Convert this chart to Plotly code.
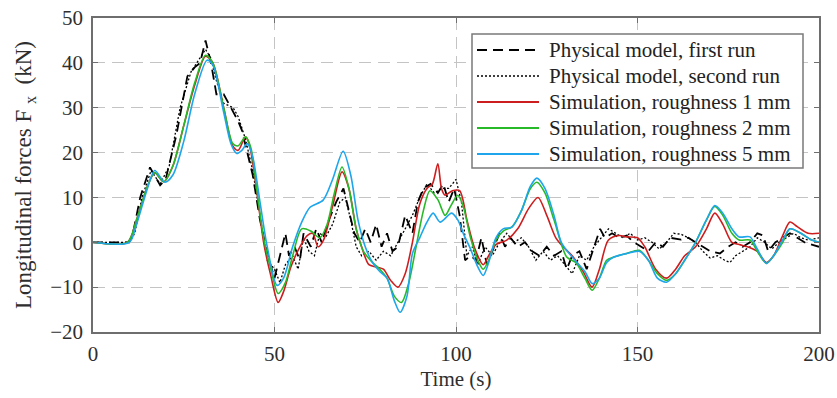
import plotly.graph_objects as go

# ---- data: time (s) and longitudinal force (kN) ----
t_run1 = [0, 10, 11, 13, 15.7, 18.5, 20, 23, 26, 28, 29.5, 31, 32.5, 34, 36, 38, 40, 41, 43, 44, 46, 48,
          50, 51.5, 53, 54, 55.5, 57, 58, 60, 61.5, 63, 65, 67, 69, 70.5, 72, 73.5, 75, 76.5, 78, 79.5, 81,
          82.5, 84, 86, 88, 89.5, 91, 93, 95, 96.5, 98, 99.5, 101, 102.5, 104, 105.5, 107, 108.5, 110, 112,
          113.5, 115, 117, 119, 121, 123, 125, 127, 129, 130.5, 132, 134, 136, 138, 139.7, 141, 143, 145,
          147, 149, 151, 153, 155, 157, 159, 162, 164, 166, 168, 170, 172.7, 175, 177, 179, 181, 183,
          184.6, 186, 188, 190, 192, 194, 196, 198, 200]
f_run1 = [0, 0, 2, 10, 16.7, 12.7, 14, 24, 37, 39, 40, 45, 40, 33, 33, 30, 27, 25, 18, 15, 5, -2.5,
          -8, -3, 2, -3, -1, -4, 2, -1, 3, 0, 5, 9, 12, 7, 2, 0, 3, 0, 4, -1, 2,
          -2, -1, 6, 2, 9, 12, 13, 11, 13, 9, 12, 6, -4, -3, -4, 1, -5, -2, 2,
          -1, 1, -1, 0, -2, -3, -1, -3, -2, -6, -3, -2, -6, -1, 3, 1, 2, 1,
          1.5, 0, -1, -2, 0, -1, 1, 0.6, 1, 0, -1, -2, -2.5, -1, 0, -1, 0, 2,
          1.5, -2, 0, 1, 2, 1, 0, -0.5, -1]

t_run2 = [0, 10, 11.5, 13.5, 16, 18.5, 21, 24, 27, 29, 31, 32.5, 34, 36, 38.6, 40, 42, 44, 46, 48, 50,
          51.5, 53, 55, 56.5, 58, 59.5, 61, 62.5, 64, 66, 68, 69.5, 71, 72.5, 74, 76, 78, 80, 82, 84, 86,
          88, 90, 92, 94, 96, 98, 100, 101.5, 103, 104.5, 106, 108, 110, 112, 114, 116, 118, 120, 122,
          124, 126, 128, 130, 132, 134, 136, 138, 140, 142, 144, 146, 148, 150, 152, 154, 156, 158, 160,
          162, 164, 166, 168, 170, 172, 174, 175.5, 177, 179, 181, 183, 185, 187, 189, 191, 193, 195,
          197, 200]
f_run2 = [0, 0, 2, 10, 16, 13, 17, 30, 38, 40.5, 43, 41, 36, 31, 30, 28, 23, 16, 6, -4, -6,
          -9, -5, -3, -6, 1, -2, -3, 2, 1, 4, 9, 10, 5, -1, -3, -2, -4, -2, -3, 0, 3,
          6, 10, 13, 11, 12, 12, 14, 9, -3, -1, -5, -1, -3, 0, 2, 0, 1, -1, -4,
          -2, -4, -3, -5, -7, -3, -4, -1, 1, 3, 2, 1, 2, 0.5, 1, 0, -1.5, 0, 2,
          1.8, 1, 0, -2, -3.5, -3, -4, -4.5, -3, -2, -1, 1, 0, -1.5, 0, 1, 2, 1,
          0.5, 1]

t_r1 = [0, 9.5, 12, 15, 17, 19.5, 22, 25, 28, 31, 33, 36, 38.5, 40, 42, 43, 45, 47, 49, 51, 52.5,
        54.5, 57, 59, 60.5, 62, 63.5, 66, 68.6, 70.5, 72.5, 74, 76, 78, 80, 82, 84, 86, 88, 90, 92,
        93.5, 95, 96, 97, 99, 101, 103, 105, 107.5, 109, 111, 114, 117, 120, 122.6, 125, 127.5, 129.5,
        132, 135, 137.5, 139.5, 142, 145, 147, 150, 152, 155, 158, 160.5, 163, 166, 169, 171.3, 173.5,
        176, 178, 181, 183, 185.5, 187.5, 190, 192, 194, 197, 200]
f_r1 = [0, 0, 5, 12.5, 15.5, 13.5, 17, 26, 35, 41.5, 40, 30, 21.5, 20.5, 23.5, 22, 12, 0, -7.5, -13.4, -11,
        -5.5, -1, 1.5, 2, -1, 0.5, 8, 15.7, 12, 3, -1, -5, -5.5, -6, -8.5, -10, -7, 0, 8.5, 12,
        13, 17.5, 12, 10.5, 11.5, 11.5, 5, -1, -5, -3, -0.5, 0.5, 3, 7.5, 10, 6, 1, -1,
        -3, -6.5, -10, -6, 0.5, 1.5, 1.2, 1, -1, -6, -8, -6, -3, -1, 3, 6.5, 4,
        0, -0.5, -1.2, -2, -4.5, -3, 1.5, 4.5, 3.5, 2, 2]

t_r2 = [0, 9.5, 12, 15, 17, 19.5, 22, 25, 28, 31, 33, 36, 38.5, 40, 42, 43.5, 45, 47, 49, 51, 53, 55,
        57.5, 60, 62.5, 64.5, 66.5, 68.6, 70.5, 72.5, 74.5, 77, 79, 81, 83, 85, 87, 89, 91, 92.8, 95,
        97, 98.5, 100.5, 102, 104, 106, 107.5, 109, 111, 113, 115.5, 118, 120.5, 122.3, 124.5, 127,
        130.5, 133, 135.5, 137.5, 139.5, 141.5, 143.5, 147, 150.5, 153, 155.5, 158, 160.5, 163, 166,
        169, 171.3, 173.5, 176, 178, 181, 183, 185.5, 187.5, 190, 192, 195, 198, 200]
f_r2 = [0, 0, 5, 12.5, 15.5, 13.5, 17, 26, 35.5, 41.7, 40, 30, 22, 21.5, 23.5, 21, 12.5, 1, -6, -11.4, -9, -3,
        3, 2.5, 1, 4, 11, 16.8, 12, 3, -2, -4.5, -6, -8, -12, -13.4, -9, -1, 7, 11.5, 9.5,
        6, 8, 10.5, 8, 1, -4, -6, -4, 0.5, 2.5, 3.5, 7, 12, 13.4, 11, 5,
        -3.3, -4.5, -8, -10.7, -8, -4, -3.3, -2.5, -1.8, -4, -7, -8.5, -7, -4, 0,
        5, 8, 6, 2, 0.5, 0.5, -2, -4.7, -3, 0, 3, 2, 0.5, 0]

t_r5 = [0, 10, 12, 15, 17, 19.8, 22, 25, 28, 31.4, 33, 36, 38, 39.6, 41, 42.5, 44, 46, 48, 50.7, 52.5,
        55, 57.5, 59.8, 63.4, 66, 68.9, 71, 73, 75, 77, 79, 81, 83, 84.6, 86.5, 88, 90, 92, 93.7, 95.6,
        98.8, 100.5, 102, 104, 106, 107.5, 109, 111, 113, 115.4, 118, 120.5, 122.3, 124.5, 127, 129,
        132, 135.5, 137.5, 139.5, 141.5, 143.5, 147, 150.5, 153, 155.5, 158, 160.5, 163, 166, 169,
        171.3, 173.5, 176, 178, 181, 183, 185.5, 187.5, 190, 192, 195, 198, 200]
f_r5 = [0, 0, 4, 12, 16, 13.4, 15, 22.5, 33, 40.6, 39.5, 29, 22, 19.8, 20.5, 22, 19, 9, -1, -9.6, -8,
        -1, 4.5, 7.8, 9.4, 14, 20.3, 15, 5, -1, -4.5, -6.5, -8, -13, -15.6, -12, -2.5, 1, 4.5, 6.5, 4.5,
        6.5, 5, 2, -1.5, -5.5, -7.4, -4.5, 1, 3, 3.4, 7, 12.5, 14.3, 12, 6, 0,
        -3.3, -6.5, -9.2, -8, -4.5, -3.3, -2.5, -2, -4, -8, -8.9, -7, -4, 0, 5,
        8.2, 6.5, 3, 1.2, 1.2, -1.5, -4.7, -3, 0.5, 3, 2, 0.5, 0]

x_ticks = [0, 50, 100, 150, 200]
y_ticks = [-20, -10, 0, 10, 20, 30, 40, 50]

FONT = "Liberation Serif"
TXT = "#2e2e2e"
RED = "rgb(204,30,30)"
GREEN = "rgb(40,185,40)"
BLUE = "rgb(30,165,235)"

series = [
    ("Physical model, first run", t_run1, f_run1, dict(color="black", width=1.8, dash="10px,6px"), "linear"),
    ("Physical model, second run", t_run2, f_run2, dict(color="black", width=1.3, dash="2px,2px"), "linear"),
    ("Simulation, roughness 1 mm", t_r1, f_r1, dict(color=RED, width=1.6), "spline"),
    ("Simulation, roughness 2 mm", t_r2, f_r2, dict(color=GREEN, width=1.6), "spline"),
    ("Simulation, roughness 5 mm", t_r5, f_r5, dict(color=BLUE, width=1.6), "spline"),
]

fig = go.Figure()
for name, t, f, style, shape in series:
    line = dict(style, shape=shape)
    if shape == "spline":
        line["smoothing"] = 0.8
    fig.add_trace(go.Scatter(x=t, y=f, mode="lines", name=name, line=line, showlegend=False))

# ---- plot geometry (pixels) used for the framed legend ----
W, H = 837, 398
ML, MR, MT, MB = 93, 18, 18, 66
PW, PH = W - ML - MR, H - MT - MB


def px(x):
    return (x - ML) / PW


def py(y):
    return 1 - (y - MT) / PH


# legend frame, sample lines and labels
shapes = [dict(type="rect", xref="paper", yref="paper",
               x0=px(472), x1=px(803), y0=py(168), y1=py(34),
               line=dict(color="#7a7a7a", width=1.5), fillcolor="white", layer="above")]
annotations = []
row0, row_step = 50, 26
for i, (name, _, _, style, _) in enumerate(series):
    yc = row0 + i * row_step
    shapes.append(dict(type="line", xref="paper", yref="paper",
                       x0=px(477), x1=px(539), y0=py(yc), y1=py(yc),
                       line=dict(color=style["color"], width=style["width"] + 0.2,
                                 dash=style.get("dash", "solid")), layer="above"))
    annotations.append(dict(text=name, xref="paper", yref="paper", x=px(547), y=py(yc),
                            xanchor="left", yanchor="middle", showarrow=False,
                            font=dict(family=FONT, size=21, color="#222")))

axis_common = dict(
    showline=True, linecolor="#6e6e6e", linewidth=1.5, mirror="ticks",
    ticks="inside", ticklen=5, tickcolor="#6e6e6e", tickwidth=1,
    showgrid=True, gridcolor="#c4c4c4", gridwidth=1, griddash="12px,7px",
    zeroline=False, automargin=False,
    tickfont=dict(family=FONT, size=21, color=TXT),
)

fig.update_xaxes(range=[0, 200], tickvals=x_ticks, ticklabelstandoff=2,
                 title=dict(text="Time (s)", font=dict(family=FONT, size=21, color=TXT), standoff=6),
                 **axis_common)
fig.update_yaxes(range=[-20, 50], tickvals=y_ticks, ticklabelstandoff=4,
                 title=dict(text="Longitudinal forces F <sub>x</sub>  (kN)",
                            font=dict(family=FONT, size=23, color=TXT), standoff=12),
                 **axis_common)

fig.update_layout(
    width=W, height=H,
    margin=dict(l=ML, r=MR, t=MT, b=MB),
    paper_bgcolor="white", plot_bgcolor="white",
    font=dict(family=FONT, size=21, color=TXT),
    showlegend=False,
    shapes=shapes, annotations=annotations,
)

fig.write_html("out.html")
